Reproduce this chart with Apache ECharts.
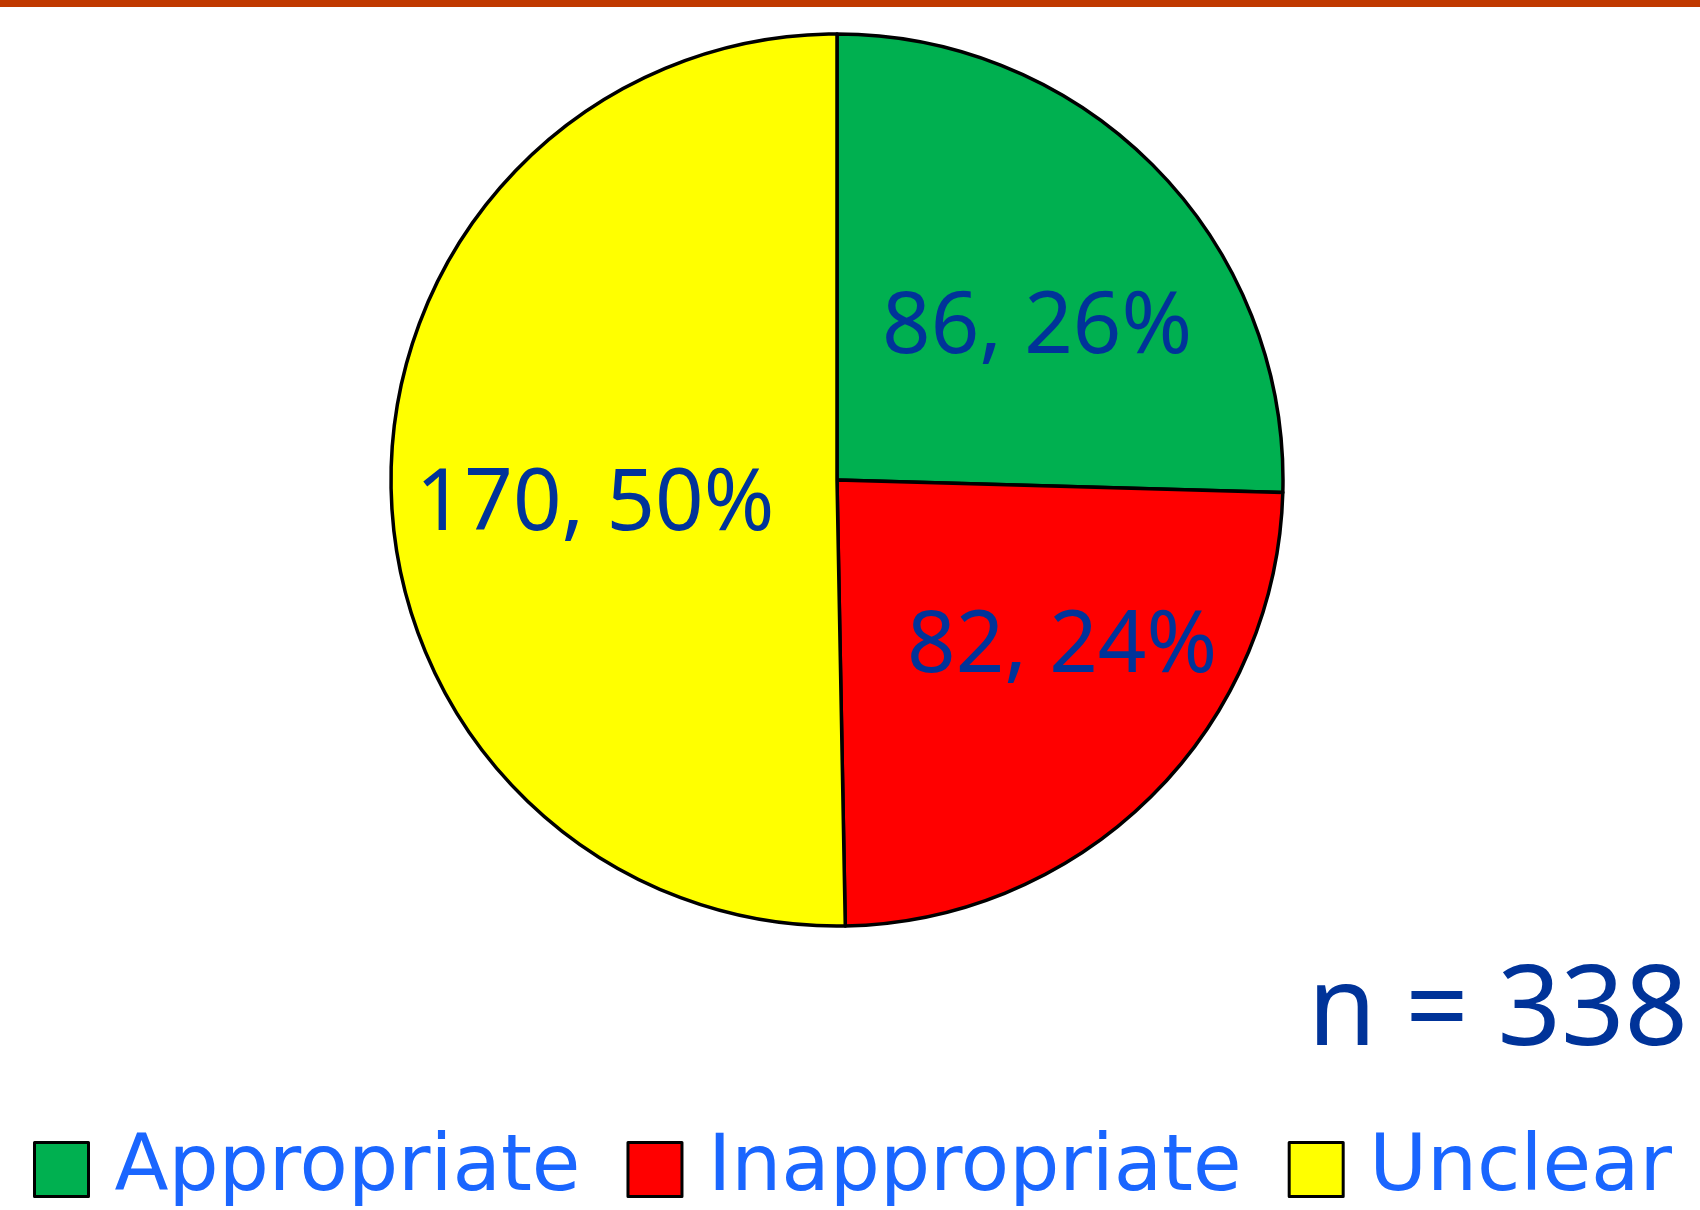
<!DOCTYPE html>
<html>
<head>
<meta charset="utf-8">
<script src="https://cdn.jsdelivr.net/npm/echarts@6/dist/echarts.min.js"></script>
<style>
  html, body { margin: 0; padding: 0; background: #fff; }
  #main { width: 1700px; height: 1210px; }
</style>
</head>
<body>
<div id="main"></div>
<script>
const categories = ['Appropriate', 'Inappropriate', 'Unclear'];
const counts = [86, 82, 170];
const percents = [26, 24, 50];
const colors = ['#00B050', '#FF0000', '#FFFF00'];
const totalLabel = 'n = 338';

// label nudges so the text sits where the original put it
const labelOffsets = [[38, 6], [66, 7], [-16, 24]];

var chartDom = document.getElementById('main');
var myChart = echarts.init(chartDom);
var option;

option = {
  backgroundColor: '#ffffff',
  animation: false,
  legend: {
    data: categories,
    left: 33,
    top: 1130,
    padding: 0,
    icon: 'rect',
    itemWidth: 54,
    itemHeight: 54,
    itemGap: 46,
    itemStyle: { borderColor: '#000', borderWidth: 3 },
    textStyle: {
      fontFamily: 'DejaVu Sans',
      fontSize: 79,
      color: '#1a66ff',
      lineHeight: 54,
      padding: [0, 0, 0, 21]
    }
  },
  graphic: [
    {
      type: 'rect',
      shape: { x: 0, y: 0, width: 1700, height: 7 },
      style: { fill: '#C03900' }
    },
    {
      type: 'text',
      right: 12,
      top: 958,
      style: {
        text: totalLabel,
        font: '111px "Noto Sans"',
        fill: '#003399'
      }
    }
  ],
  series: [
    {
      name: 'Appropriateness',
      type: 'pie',
      center: [837, 480],
      radius: 446,
      startAngle: 90,
      clockwise: true,
      avoidLabelOverlap: false,
      itemStyle: { borderColor: '#000', borderWidth: 3.5 },
      label: {
        position: 'inside',
        fontFamily: 'Noto Sans',
        fontSize: 85,
        color: '#003399'
      },
      labelLine: { show: false },
      emphasis: { disabled: true },
      data: categories.map((name, i) => ({
        name: name,
        value: counts[i],
        itemStyle: { color: colors[i] },
        label: {
          formatter: counts[i] + ', ' + percents[i] + '%',
          offset: labelOffsets[i]
        }
      }))
    }
  ]
};

option && myChart.setOption(option);
</script>
</body>
</html>
